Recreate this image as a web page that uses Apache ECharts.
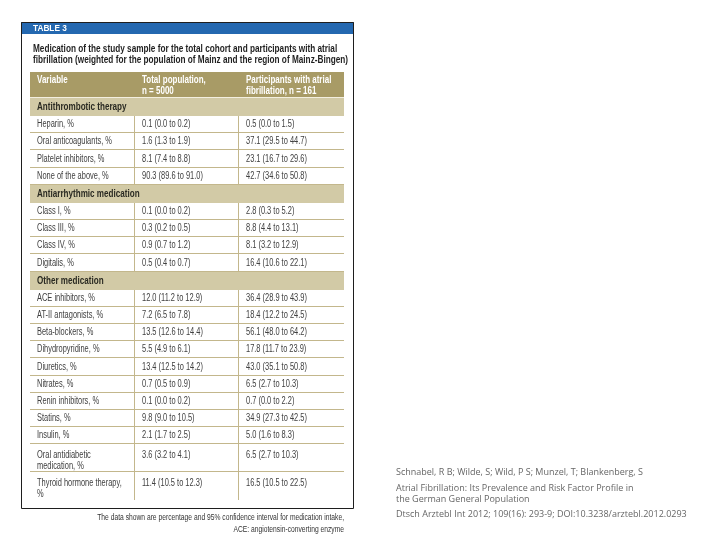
<!DOCTYPE html>
<html>
<head>
<meta charset="utf-8">
<script src="https://cdn.jsdelivr.net/npm/echarts@6/dist/echarts.min.js"></script>
<style>
  html, body { margin: 0; background: #fff; }
  #chart { width: 720px; height: 540px; }
</style>
</head>
<body>
<div id="chart"></div>
<script>
// table content
const headers = ["Variable", "Total population,\nn = 5000", "Participants with atrial\nfibrillation, n = 161"];
const sections = ["Antithrombotic therapy", "Antiarrhythmic medication", "Other medication"];
const variables = [
  "Heparin, %", "Oral anticoagulants, %", "Platelet inhibitors, %", "None of the above, %",
  "Class I, %", "Class III, %", "Class IV, %", "Digitalis, %",
  "ACE inhibitors, %", "AT-II antagonists, %", "Beta-blockers, %", "Dihydropyridine, %",
  "Diuretics, %", "Nitrates, %", "Renin inhibitors, %", "Statins, %", "Insulin, %",
  "Oral antidiabetic\nmedication, %", "Thyroid hormone therapy,\n%"
];
const sectionOf = [0, 0, 0, 0, 1, 1, 1, 1, 2, 2, 2, 2, 2, 2, 2, 2, 2, 2, 2];
// [percentage, lower CI, upper CI]
const totalPopulation = [
  [0.1, 0.0, 0.2], [1.6, 1.3, 1.9], [8.1, 7.4, 8.8], [90.3, 89.6, 91.0],
  [0.1, 0.0, 0.2], [0.3, 0.2, 0.5], [0.9, 0.7, 1.2], [0.5, 0.4, 0.7],
  [12.0, 11.2, 12.9], [7.2, 6.5, 7.8], [13.5, 12.6, 14.4], [5.5, 4.9, 6.1],
  [13.4, 12.5, 14.2], [0.7, 0.5, 0.9], [0.1, 0.0, 0.2], [9.8, 9.0, 10.5], [2.1, 1.7, 2.5],
  [3.6, 3.2, 4.1], [11.4, 10.5, 12.3]
];
const atrialFibrillation = [
  [0.5, 0.0, 1.5], [37.1, 29.5, 44.7], [23.1, 16.7, 29.6], [42.7, 34.6, 50.8],
  [2.8, 0.3, 5.2], [8.8, 4.4, 13.1], [8.1, 3.2, 12.9], [16.4, 10.6, 22.1],
  [36.4, 28.9, 43.9], [18.4, 12.2, 24.5], [56.1, 48.0, 64.2], [17.8, 11.7, 23.9],
  [43.0, 35.1, 50.8], [6.5, 2.7, 10.3], [0.7, 0.0, 2.2], [34.9, 27.3, 42.5], [5.0, 1.6, 8.3],
  [6.5, 2.7, 10.3], [16.5, 10.5, 22.5]
];

const title = "Medication of the study sample for the total cohort and participants with atrial\nfibrillation (weighted for the population of Mainz and the region of Mainz-Bingen)";
const footnote = "The data shown are percentage and 95% confidence interval for medication intake,\nACE: angiotensin-converting enzyme";
const citation = [
  "Schnabel, R B; Wilde, S; Wild, P S; Munzel, T; Blankenberg, S",
  "Atrial Fibrillation: Its Prevalence and Risk Factor Profile in\nthe German General Population",
  "Dtsch Arztebl Int 2012; 109(16): 293-9; DOI:10.3238/arztebl.2012.0293"
];

const fmt = (v) => `${v[0].toFixed(1)} (${v[1].toFixed(1)} to ${v[2].toFixed(1)})`;

// row heights in pixels (1 y unit = 1 px)
const ROW_H = { header: 26, section: 18, single: 17.2, double: 28 };
// no condensed font installed, so text is squeezed with scaleX
const FONT = "'Liberation Sans', Arial, sans-serif";

const cells = [];
let y = 0;
function addRow(kind, texts, span) {
  const h = ROW_H[kind];
  if (span) {
    cells.push({ kind, x0: 0, x1: 3, y0: y, y1: y + h, text: texts[0], col: 0 });
  } else {
    texts.forEach((t, c) => cells.push({ kind, x0: c, x1: c + 1, y0: y, y1: y + h, text: t, col: c }));
  }
  y += h;
}
addRow("header", headers);
variables.forEach((v, i) => {
  if (i === 0 || sectionOf[i] !== sectionOf[i - 1]) addRow("section", [sections[sectionOf[i]]], true);
  const kind = v.includes("\n") ? "double" : "single";
  addRow(kind, [v, fmt(totalPopulation[i]), fmt(atrialFibrillation[i])]);
  const last = i === variables.length - 1;
  cells.slice(-3).forEach((c) => (c.last = last));
});
const tableHeight = y;

const TAN = "#a89b66";
const TAN_LIGHT = "#d2caa6";
const RULE = "#c3b78c";

function squeezedText(x, y, style, sx) {
  return { type: "text", x, y, scaleX: sx, style: Object.assign({ x: 0, y: 0, align: "left" }, style) };
}

function renderCell(params, api) {
  const c = cells[api.value(4)];
  const p0 = api.coord([api.value(0), api.value(2)]);
  const p1 = api.coord([api.value(1), api.value(3)]);
  const x0 = Math.round(p0[0]), y0 = Math.round(p0[1]);
  const x1 = Math.round(p1[0]), y1 = Math.round(p1[1]);
  const kids = [];
  let fill = "#fff";
  if (c.kind === "header") fill = TAN;
  else if (c.kind === "section") fill = TAN_LIGHT;
  kids.push({ type: "rect", shape: { x: x0, y: y0, width: x1 - x0, height: y1 - y0 }, style: { fill } });

  if (c.kind === "header") {
    kids.push({ type: "rect", shape: { x: x0, y: y1 - 1, width: x1 - x0, height: 1 }, style: { fill: "#f3efe0" } });
    kids.push(squeezedText(x0 + 7, y0 + 3, { text: c.text, fill: "#fff", font: `bold 10px ${FONT}`, lineHeight: 11, verticalAlign: "top" }, 0.8));
  } else if (c.kind === "section") {
    kids.push(squeezedText(x0 + 7, (y0 + y1) / 2, { text: c.text, fill: "#2a2a22", font: `bold 10px ${FONT}`, verticalAlign: "middle" }, 0.81));
  } else {
    if (!c.last) kids.push({ type: "line", shape: { x1: x0, y1: y1 - 0.5, x2: x1, y2: y1 - 0.5 }, style: { stroke: RULE, lineWidth: 1 } });
    if (c.col < 2) kids.push({ type: "line", shape: { x1: x1 - 0.5, y1: y0, x2: x1 - 0.5, y2: y1 }, style: { stroke: RULE, lineWidth: 1 } });
    const st = { text: c.text, fill: "#404040", font: `10px ${FONT}`, lineHeight: 11 };
    if (c.kind === "double") kids.push(squeezedText(x0 + 7, y0 + 6, Object.assign(st, { verticalAlign: "top" }), 0.745));
    else kids.push(squeezedText(x0 + 7, (y0 + y1) / 2, Object.assign(st, { verticalAlign: "middle" }), 0.745));
  }
  return { type: "group", children: kids };
}

const chart = echarts.init(document.getElementById("chart"));
chart.setOption({
  animation: false,
  backgroundColor: "#fff",
  grid: { left: 30, top: 72, width: 314, height: tableHeight },
  xAxis: { type: "value", min: 0, max: 3, show: false },
  yAxis: { type: "value", min: 0, max: tableHeight, inverse: true, show: false },
  graphic: [
    { type: "rect", shape: { x: 21, y: 22, width: 333, height: 12 }, style: { fill: "#2468b0" }, z: 10 },
    { type: "rect", shape: { x: 21.5, y: 22.5, width: 332, height: 486 }, style: { fill: "none", stroke: "#1e1e1e", lineWidth: 1 }, z: 10 },
    { type: "text", x: 33, y: 28.5, scaleX: 0.87, style: { x: 0, y: 0, text: "TABLE 3", fill: "#fff", font: `900 9.5px ${FONT}`, verticalAlign: "middle" }, z: 11 },
    { type: "text", x: 33, y: 43.5, scaleX: 0.822, style: { x: 0, y: 0, text: title, fill: "#1f1f1f", font: `bold 10px ${FONT}`, lineHeight: 11, verticalAlign: "top" }, z: 11 },
    { type: "text", x: 344, y: 511.5, scaleX: 0.79, style: { x: 0, y: 0, text: footnote, fill: "#333", font: `8.5px ${FONT}`, lineHeight: 12, align: "right", verticalAlign: "top" }, z: 11 },
    { type: "text", style: { x: 396, y: 468, text: citation[0], fill: "#666", font: `9px 'Open Sans', sans-serif`, verticalAlign: "top" }, z: 11 },
    { type: "text", style: { x: 396, y: 483, text: citation[1], fill: "#666", font: `9px 'Open Sans', sans-serif`, lineHeight: 11, verticalAlign: "top" }, z: 11 },
    { type: "text", style: { x: 396, y: 510, text: citation[2], fill: "#666", font: `9px 'Open Sans', sans-serif`, verticalAlign: "top" }, z: 11 }
  ],
  series: [{
    type: "custom",
    renderItem: renderCell,
    data: cells.map((c, i) => [c.x0, c.x1, c.y0, c.y1, i]),
    encode: { x: [0, 1], y: [2, 3] },
    silent: true
  }]
});
</script>
</body>
</html>
